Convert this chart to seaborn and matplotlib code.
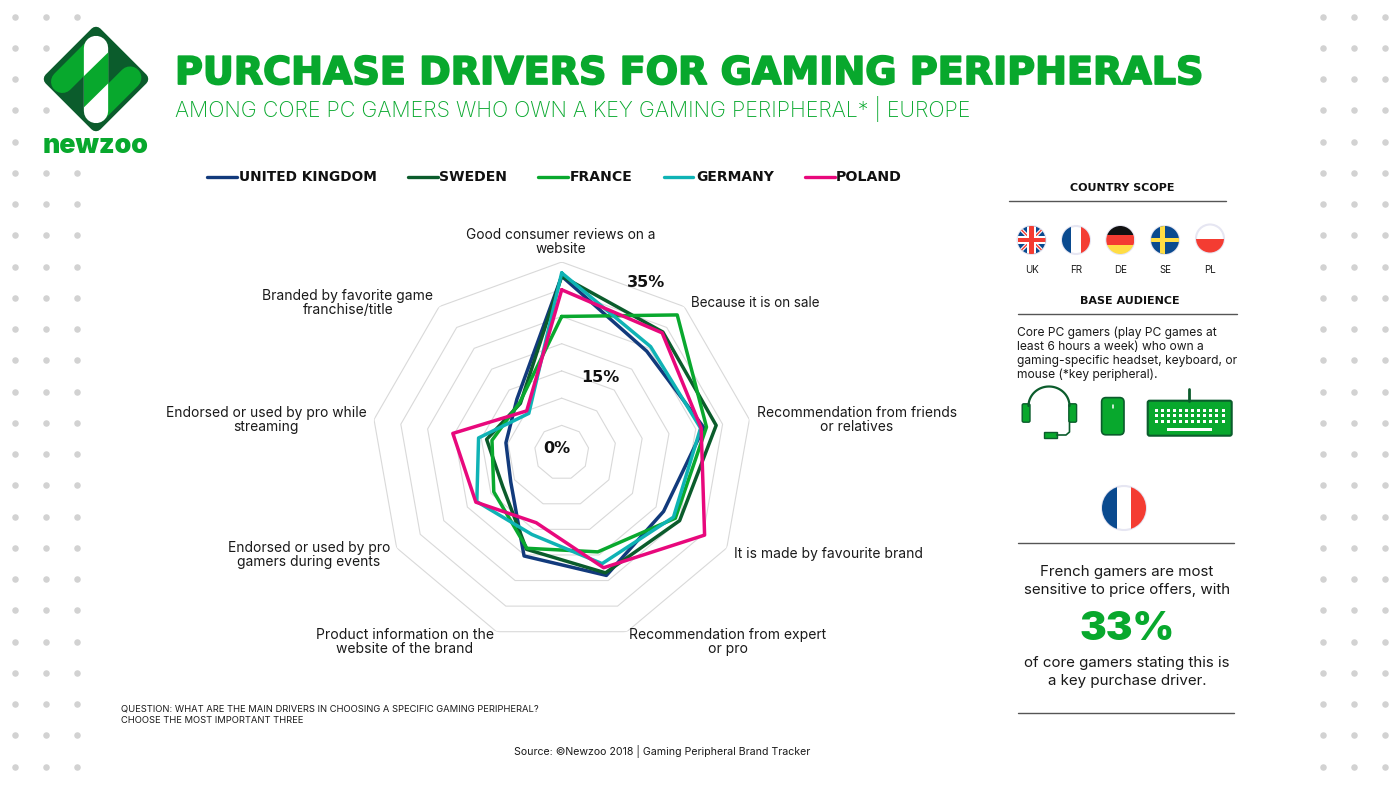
import numpy as np
import pandas as pd
import matplotlib
matplotlib.use("Agg")
import matplotlib.pyplot as plt
import matplotlib.patheffects as pe
from matplotlib.patches import Circle, Rectangle, Polygon, FancyBboxPatch
import seaborn as sns

# chart values, share of core PC gamers in %
drivers = [
    "Good consumer reviews on a\nwebsite",
    "Because it is on sale",
    "Recommendation from friends\nor relatives",
    "It is made by favourite brand",
    "Recommendation from expert\nor pro",
    "Product information on the\nwebsite of the brand",
    "Endorsed or used by pro\ngamers during events",
    "Endorsed or used by pro while\nstreaming",
    "Branded by favorite game\nfranchise/title",
]
countries = ["UNITED KINGDOM", "SWEDEN", "FRANCE", "GERMANY", "POLAND"]
uk = [32.4, 24.3, 26.5, 21.6, 24.0, 20.2, 10.8, 10.4, 12.8]
sweden = [32.4, 28.9, 28.8, 25.0, 23.5, 18.9, 12.5, 14.0, 11.8]
france = [25.0, 33.0, 27.0, 24.1, 19.4, 18.7, 14.4, 13.0, 12.0]
germany = [33.0, 25.4, 25.9, 23.7, 21.7, 16.0, 18.0, 15.5, 9.4]
poland = [29.9, 28.7, 26.0, 30.3, 22.5, 13.7, 18.2, 20.3, 10.0]
rings = [5, 10, 15, 20, 25, 30, 35]
colors = ["#123a7c", "#0b5c2c", "#09a82e", "#0fb3b5", "#e8087c"]

GREEN = "#08a82d"
DARK = "#0b5c2c"
FONT = "Inter"
WIDE = "DejaVu Sans"
W, H = 1400, 788

sns.set_theme(style="white")
plt.rcParams["font.family"] = [FONT, "DejaVu Sans"]

fig = plt.figure(figsize=(14, 7.88), dpi=100, facecolor="white")

# page layer in pixel coordinates, for everything around the chart
page = fig.add_axes([0, 0, 1, 1], zorder=3)
page.set_xlim(0, W)
page.set_ylim(H, 0)
page.axis("off")
page.patch.set_alpha(0)


def put(x, y, s, width=None, size=10, weight="normal", color="#1a1a1a", ha="center", pitch=14, family=FONT):
    # one text per line, width is the pixel width of the widest line
    lines = s.split("\n")
    items = [page.text(x, y + 1 + i * pitch, ln, fontsize=size, fontweight=weight, color=color,
                       ha=ha, va="center", family=family) for i, ln in enumerate(lines)]
    if width:
        rend = fig.canvas.get_renderer()
        widest = max(t.get_window_extent(rend).width for t in items)
        for t in items:
            t.set_fontsize(size * width / widest)
    return items


def flag(cx, cy, r, code):
    disc = Circle((cx, cy), r, fc="white", ec="#e6e6f2", lw=1.5, zorder=2)
    page.add_patch(disc)

    def rect(x0, y0, x1, y1, c):
        p = Rectangle((x0, y0), x1 - x0, y1 - y0, fc=c, ec="none", zorder=3)
        page.add_patch(p)
        p.set_clip_path(disc)

    def bar(x0, y0, x1, y1, c, lw):
        p, = page.plot([x0, x1], [y0, y1], color=c, lw=lw, zorder=3, solid_capstyle="butt")
        p.set_clip_path(disc)

    blue, red, s = "#0a4a8f", "#f43c32", r / 14
    if code == "FR":
        rect(cx - r, cy - r, cx - r / 3, cy + r, blue)
        rect(cx + r / 3, cy - r, cx + r, cy + r, red)
    elif code == "DE":
        rect(cx - r, cy - r, cx + r, cy - r / 3, "#111111")
        rect(cx - r, cy - r / 3, cx + r, cy + r / 3, red)
        rect(cx - r, cy + r / 3, cx + r, cy + r, "#ffdd44")
    elif code == "SE":
        rect(cx - r, cy - r, cx + r, cy + r, blue)
        rect(cx - r, cy - 2.4 * s, cx + r, cy + 2.4 * s, "#ffdd44")
        rect(cx - 5 * s, cy - r, cx, cy + r, "#ffdd44")
    elif code == "PL":
        rect(cx - r, cy, cx + r, cy + r, red)
    else:
        rect(cx - r, cy - r, cx + r, cy + r, blue)
        bar(cx - r, cy - r, cx + r, cy + r, "white", 2.6)
        bar(cx - r, cy + r, cx + r, cy - r, "white", 2.6)
        bar(cx - r, cy - r, cx + r, cy + r, red, 1)
        bar(cx - r, cy + r, cx + r, cy - r, red, 1)
        rect(cx - r, cy - 4.4 * s, cx + r, cy + 4.4 * s, "white")
        rect(cx - 4.4 * s, cy - r, cx + 4.4 * s, cy + r, "white")
        rect(cx - r, cy - 2.4 * s, cx + r, cy + 2.4 * s, red)
        rect(cx - 2.4 * s, cy - r, cx + 2.4 * s, cy + r, red)


# background dots
dot_rows = 16.7 + 31.25 * np.arange(25)
dx, dy = [], []
for i, y in enumerate(dot_rows):
    for x in [15, 46, 77, 1322.7, 1354, 1385.3]:
        # the logo sits on top of these
        if (x == 77 and 0 < i < 5) or (x == 46 and i in (2, 4)):
            continue
        dx.append(x)
        dy.append(y)
sns.scatterplot(x=dx, y=dy, s=22, color="#d2d2d2", linewidth=0, ax=page, legend=False, zorder=1)

# logo
page.add_patch(Polygon([(96, 33), (142, 79), (96, 125), (50, 79)], closed=True, fc=DARK, ec=DARK,
                       lw=9, joinstyle="round", zorder=2))
px = 0.72
page.plot([96, 62.3], [48, 81.7], color=GREEN, lw=22.6 * px, solid_capstyle="round", zorder=3)
page.plot([96.4, 130.1], [111.4, 77.7], color=GREEN, lw=22.6 * px, solid_capstyle="round", zorder=3)
page.plot([96.2, 96.2], [48, 111], color="white", lw=24.3 * px, solid_capstyle="round", zorder=4)
page.add_patch(Polygon([(84, 76), (108.3, 52.3), (108.3, 83.3), (84, 107.3)], fc=GREEN, ec="none", zorder=5))
put(96, 145, "newzoo", width=106, size=20, weight="black", color=GREEN)

# header, the stroke thickens the bold face towards the heavier original
title = put(175, 73, "PURCHASE DRIVERS FOR GAMING PERIPHERALS", width=1030, size=30, weight="bold",
            color=GREEN, ha="left", family=WIDE)
title[0].set_path_effects([pe.withStroke(linewidth=1.3, foreground=GREEN)])
put(175, 108, "AMONG CORE PC GAMERS WHO OWN A KEY GAMING PERIPHERAL* | EUROPE", width=793, size=15,
    weight="light", color=GREEN, ha="left")

# legend
leg_lines = [(207, 237), (408, 438), (538, 568), (664, 693), (805, 835)]
leg_text = [(239, 138), (439, 68), (570, 63), (696, 78), (836, 66)]
for name, c, (x0, x1), (tx, tw) in zip(countries, colors, leg_lines, leg_text):
    page.plot([x0, x1], [177, 177], color=c, lw=2.4, solid_capstyle="round")
    put(tx, 176, name, width=tw, size=10, weight="bold", color="#111111", ha="left", family=WIDE)

# radar chart
angles = np.deg2rad(np.arange(len(drivers)) * 360 / len(drivers))
closed = np.append(angles, angles[0])
cx, cy, R = 561.7, 452.6, 190.6
ax = fig.add_axes([(cx - R) / W, 1 - (cy + R) / H, 2 * R / W, 2 * R / H], projection="polar", zorder=2)
ax.set_theta_zero_location("N")
ax.set_theta_direction(-1)
for r in rings:
    ax.plot(closed, [r] * len(closed), color="#d9d9d9", lw=0.8, zorder=1)

frames = []
for name, vals in zip(countries, [uk, sweden, france, germany, poland]):
    frames.append(pd.DataFrame({"angle": closed, "share": vals + vals[:1], "country": name}))
df = pd.concat(frames, ignore_index=True)
sns.lineplot(data=df, x="angle", y="share", hue="country", hue_order=countries, palette=colors,
             sort=False, estimator=None, lw=2.5, legend=False, ax=ax, zorder=3)
ax.set_ylim(0, rings[-1])
ax.axis("off")

# driver labels
label_x = [561, 755, 857, 828, 728, 405, 309, 266, 348]
label_y = [234, 302, 412, 553, 634, 634, 547, 412, 295]
label_w = [190, 130, 200, 189, 197, 177, 162, 200, 171]
for s, x, y, w in zip(drivers, label_x, label_y, label_w):
    put(x, y, s, width=w, size=10)
put(557, 447, "0%", size=11.5, weight="bold", color="#111111", family=WIDE)
put(600, 376, "15%", size=11.5, weight="bold", color="#111111", family=WIDE)
put(646, 281, "35%", size=11.5, weight="bold", color="#111111", family=WIDE)

# right column
put(1122, 187, "COUNTRY SCOPE", width=105, size=8, weight="bold", color="#111111", family=WIDE)
page.plot([1009, 1226], [201, 201], color="#555555", lw=1)
for code, x, y in zip(["UK", "FR", "DE", "SE", "PL"], [1031.5, 1076, 1120.3, 1165, 1210],
                      [240, 240, 240, 240, 238.5]):
    flag(x, y, 14, code)
    put(x, 269, code, size=7)
put(1130, 300, "BASE AUDIENCE", width=100, size=8, weight="bold", color="#111111", family=WIDE)
page.plot([1018, 1237], [314.3, 314.3], color="#555555", lw=1)
put(1017, 332, "Core PC gamers (play PC games at\nleast 6 hours a week) who own a\n"
    "gaming-specific headset, keyboard, or\nmouse (*key peripheral).", width=221, size=9, ha="left")

# headset
t = np.linspace(np.pi, 2 * np.pi, 40)
page.plot(1049 + 20.5 * np.cos(t), 406 + 19.5 * np.sin(t), color=DARK, lw=1.6)
for x0 in [1022.7, 1069.3]:
    page.add_patch(FancyBboxPatch((x0 + 1, 405.3), 4.8, 15.4, boxstyle="round,pad=1.5", fc=GREEN, ec=DARK, lw=1))
page.plot([1069.5, 1069.5, 1066, 1056.7], [421.7, 432, 435, 435], color=DARK, lw=1.2)
page.add_patch(Rectangle((1044.3, 432.3), 12.4, 5.4, fc=GREEN, ec=DARK, lw=1))

# mouse
page.add_patch(FancyBboxPatch((1106, 402), 13.6, 28.4, boxstyle="round,pad=4.4", fc=GREEN, ec=DARK, lw=1.2))
page.plot([1112.7, 1112.7], [404.5, 408], color="white", lw=1.1)

# keyboard
page.plot([1189.3, 1189.3], [389, 401], color=DARK, lw=2)
page.add_patch(FancyBboxPatch((1149.7, 402.7), 80, 31, boxstyle="round,pad=2", fc=GREEN, ec=DARK, lw=1.5))
for ky in [410, 415.7, 421.3]:
    for kx in np.linspace(1156.7, 1223, 12):
        page.add_patch(Rectangle((kx - 1.5, ky - 1.5), 3, 3, fc="white", ec="none"))
page.add_patch(Rectangle((1166.7, 428.2), 45.6, 2.4, fc="white", ec="none"))

# french callout
flag(1124, 508, 22, "FR")
page.plot([1018, 1234], [542.7, 542.7], color="#555555", lw=1)
put(1127, 571, "French gamers are most\nsensitive to price offers, with", width=208, size=10, pitch=18)
put(1127, 628, "33%", width=95, size=30, weight="black", color=GREEN)
put(1127, 662, "of core gamers stating this is\na key purchase driver.", width=208, size=10, pitch=17.5)
page.plot([1018, 1234], [713, 713], color="#555555", lw=1)

# notes
put(121, 708, "QUESTION: WHAT ARE THE MAIN DRIVERS IN CHOOSING A SPECIFIC GAMING PERIPHERAL?\n"
    "CHOOSE THE MOST IMPORTANT THREE", width=416, size=6.5, ha="left", pitch=11.5)
put(662, 750, "Source: \u00a9Newzoo 2018 | Gaming Peripheral Brand Tracker", width=295, size=7.5)

fig.savefig("out.png", dpi=100, facecolor="white")
